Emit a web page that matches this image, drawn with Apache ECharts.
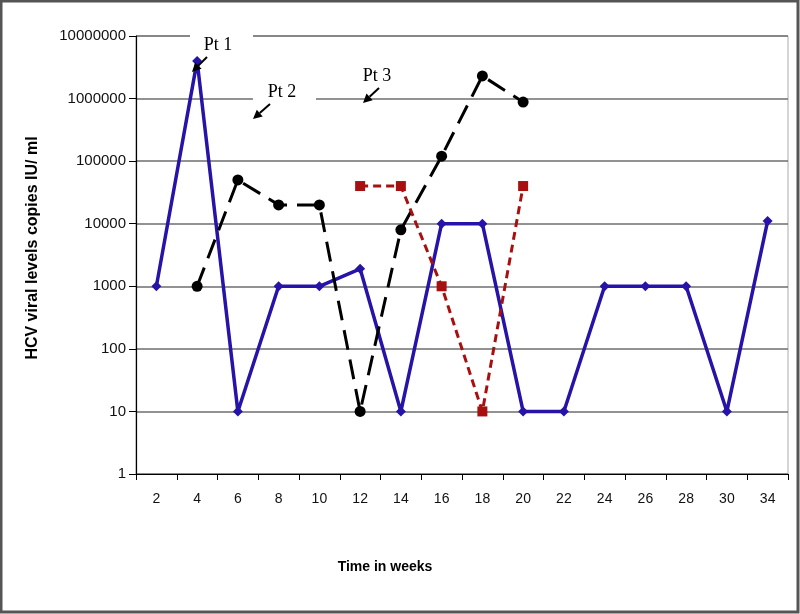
<!DOCTYPE html>
<html>
<head>
<meta charset="utf-8">
<script src="https://cdn.jsdelivr.net/npm/echarts@6/dist/echarts.min.js"></script>
<style>html,body{margin:0;padding:0;background:#fff}#c{width:800px;height:614px}</style>
</head>
<body>
<div id="c"></div>
<script>
var weeks = ['2','4','6','8','10','12','14','16','18','20','22','24','26','28','30','34'];
var pt1 = [1000, 4000000, 10, 1000, 1000, 1900, 10, 10000, 10000, 10, 10, 1000, 1000, 1000, 10, 11000];
var pt2 = [null, 1000, 50000, 20000, 20000, 10, 8000, 120000, 2300000, 880000, null, null, null, null, null, null];
var pt3 = [null, null, null, null, null, 40000, 40000, 1000, 10, 40000, null, null, null, null, null, null];
var yTicks = [1, 10, 100, 1000, 10000, 100000, 1000000, 10000000];

var chart = echarts.init(document.getElementById('c'));

function arrow(x1, y1, x2, y2) {
  var ang = Math.atan2(y2 - y1, x2 - x1);
  var L = 9, W = 4.5;
  var bx = x2 - L * Math.cos(ang), by = y2 - L * Math.sin(ang);
  var px = -Math.sin(ang) * W, py = Math.cos(ang) * W;
  return [
    { type: 'line', z: 10, shape: { x1: x1, y1: y1, x2: bx, y2: by }, style: { stroke: '#000', lineWidth: 2 } },
    { type: 'polygon', z: 10, shape: { points: [[x2, y2], [bx + px, by + py], [bx - px, by - py]] }, style: { fill: '#000' } }
  ];
}

var graphics = [
  { type: 'rect', z: 20, shape: { x: 1, y: 1, width: 797, height: 611 }, style: { fill: 'none', stroke: '#555', lineWidth: 3 } },
  { type: 'rect', z: 1, shape: { x: 190, y: 28, width: 63, height: 28 }, style: { fill: '#fff' } },
  { type: 'rect', z: 1, shape: { x: 253, y: 82, width: 63, height: 22 }, style: { fill: '#fff' } },
  { type: 'text', z: 10, x: 218, y: 45, style: { text: 'Pt 1', fill: '#000', font: '18px "Liberation Serif"', textAlign: 'center', textVerticalAlign: 'middle' } },
  { type: 'text', z: 10, x: 282, y: 92, style: { text: 'Pt 2', fill: '#000', font: '18px "Liberation Serif"', textAlign: 'center', textVerticalAlign: 'middle' } },
  { type: 'text', z: 10, x: 377, y: 76, style: { text: 'Pt 3', fill: '#000', font: '18px "Liberation Serif"', textAlign: 'center', textVerticalAlign: 'middle' } },
  { type: 'text', z: 10, x: 385, y: 567, style: { text: 'Time in weeks', fill: '#000', font: 'bold 14px "Liberation Sans"', textAlign: 'center', textVerticalAlign: 'middle' } },
  { type: 'text', z: 10, x: 33, y: 248, rotation: Math.PI / 2, style: { text: 'HCV viral levels copies IU/ ml', fill: '#000', font: 'bold 16px "Liberation Sans"', textAlign: 'center', textVerticalAlign: 'middle' } }
].concat(arrow(207, 57, 192, 72), arrow(270, 104, 253, 119), arrow(379, 88, 363, 103));

chart.setOption({
  animation: false,
  backgroundColor: '#fff',
  grid: { left: 136, right: 12, top: 36, bottom: 140, show: true, borderColor: '#aaa', borderWidth: 1, backgroundColor: 'transparent' },
  xAxis: {
    type: 'category',
    data: weeks,
    boundaryGap: true,
    axisLine: { lineStyle: { color: '#000', width: 1.2 } },
    axisTick: { show: true, interval: 0, length: 6, lineStyle: { color: '#000' } },
    axisLabel: { interval: 0, color: '#111', fontSize: 14, fontFamily: 'Liberation Sans', margin: 18 },
    splitLine: { show: false }
  },
  yAxis: {
    type: 'log',
    logBase: 10,
    min: yTicks[0],
    max: yTicks[yTicks.length - 1],
    splitNumber: 7,
    axisLine: { show: true, lineStyle: { color: '#000', width: 1.2 } },
    axisTick: { show: true, inside: false, length: 7, lineStyle: { color: '#000' } },
    axisLabel: { color: '#111', fontSize: 15, fontFamily: 'Liberation Sans', margin: 10, formatter: function (v) { return String(Math.round(v)); } },
    splitLine: { show: true, lineStyle: { color: '#6e6e6e', width: 1.6 } }
  },
  series: [
    {
      name: 'Pt 1', type: 'line', data: pt1, connectNulls: false,
      symbol: 'diamond', symbolSize: 10,
      lineStyle: { color: '#2613a8', width: 3.5 },
      itemStyle: { color: '#2613a8' }
    },
    {
      name: 'Pt 2', type: 'line', data: pt2, connectNulls: false,
      symbol: 'circle', symbolSize: 11,
      lineStyle: { color: '#000', width: 3, type: [20, 10] },
      itemStyle: { color: '#000' }
    },
    {
      name: 'Pt 3', type: 'line', data: pt3, connectNulls: false,
      symbol: 'rect', symbolSize: 10,
      lineStyle: { color: '#a81010', width: 3, type: [8, 5] },
      itemStyle: { color: '#a81010' }
    }
  ],
  graphic: graphics
});
</script>
</body>
</html>
